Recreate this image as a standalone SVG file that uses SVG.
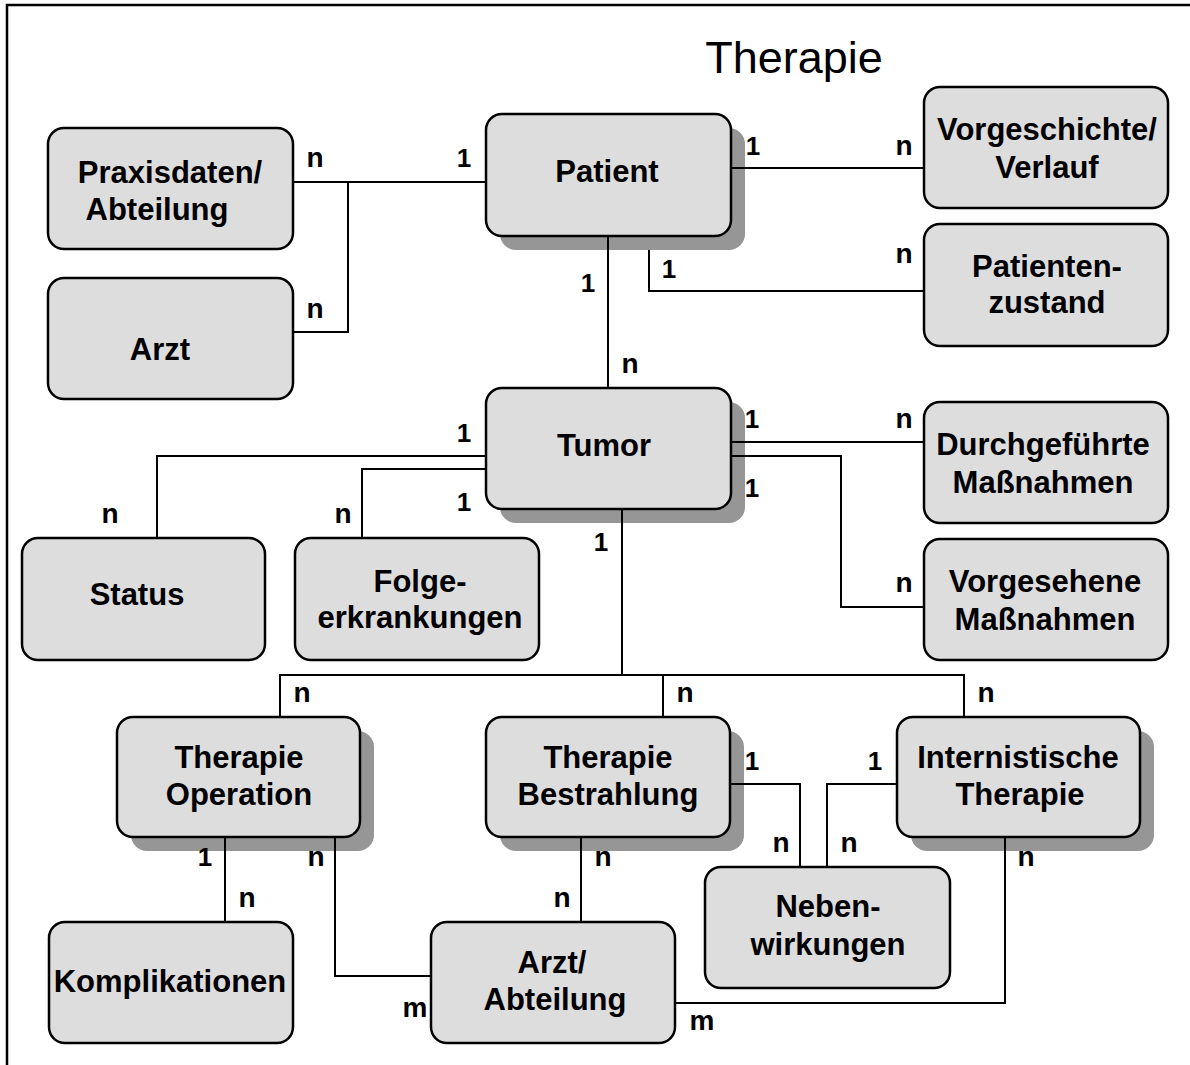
<svg xmlns="http://www.w3.org/2000/svg" width="1190" height="1065" viewBox="0 0 1190 1065">
  <style>
    .box { fill: #dddddd; stroke: #000; stroke-width: 2.5; }
    .shadow { fill: #969696; }
    .lbl { font-family: "Liberation Sans", Arial, sans-serif; font-weight: bold; font-size: 31px; text-anchor: middle; fill: #000; }
    .card { font-family: "Liberation Sans", Arial, sans-serif; font-weight: bold; font-size: 28px; text-anchor: middle; fill: #000; }
    .card.one { font-size: 26px; }
    .title { font-family: "Liberation Sans", Arial, sans-serif; font-size: 45px; text-anchor: middle; fill: #000; }
    .wire { fill: none; stroke: #000; stroke-width: 2; }
  </style>

  <rect x="0" y="0" width="1190" height="1065" fill="#fff"/>

  <!-- frame: top and left edges -->
  <path d="M7,1065 V5 H1190" fill="none" stroke="#000" stroke-width="2.5"/>

  <text class="title" x="794" y="73">Therapie</text>

  <g id="praxisdaten">
    <rect class="box" x="48" y="128" width="245" height="121" rx="16"/>
    <text class="lbl" x="170" y="183">Praxisdaten/</text>
    <text class="lbl" x="157" y="220">Abteilung</text>
  </g>

  <g id="arzt">
    <rect class="box" x="48" y="278" width="245" height="121" rx="16"/>
    <text class="lbl" x="160" y="360">Arzt</text>
  </g>

  <g id="patient">
    <rect class="shadow" x="500" y="128" width="245" height="122" rx="16"/>
    <rect class="box" x="486" y="114" width="245" height="122" rx="16"/>
    <text class="lbl" x="607" y="182">Patient</text>
  </g>

  <g id="vorgeschichte">
    <rect class="box" x="924" y="87" width="244" height="121" rx="16"/>
    <text class="lbl" x="1047" y="140">Vorgeschichte/</text>
    <text class="lbl" x="1047" y="178">Verlauf</text>
  </g>

  <g id="patientenzustand">
    <rect class="box" x="924" y="224" width="244" height="122" rx="16"/>
    <text class="lbl" x="1047" y="277">Patienten-</text>
    <text class="lbl" x="1047" y="313">zustand</text>
  </g>

  <g id="tumor">
    <rect class="shadow" x="500" y="402" width="245" height="121" rx="16"/>
    <rect class="box" x="486" y="388" width="245" height="121" rx="16"/>
    <text class="lbl" x="604" y="456">Tumor</text>
  </g>

  <g id="status">
    <rect class="box" x="22" y="538" width="243" height="122" rx="16"/>
    <text class="lbl" x="137" y="605">Status</text>
  </g>

  <g id="folgeerkrankungen">
    <rect class="box" x="295" y="538" width="244" height="122" rx="16"/>
    <text class="lbl" x="420" y="592">Folge-</text>
    <text class="lbl" x="420" y="628">erkrankungen</text>
  </g>

  <g id="durchgefuehrte">
    <rect class="box" x="924" y="402" width="244" height="121" rx="16"/>
    <text class="lbl" x="1043" y="455">Durchgeführte</text>
    <text class="lbl" x="1043" y="493">Maßnahmen</text>
  </g>

  <g id="vorgesehene">
    <rect class="box" x="924" y="539" width="244" height="121" rx="16"/>
    <text class="lbl" x="1045" y="592">Vorgesehene</text>
    <text class="lbl" x="1045" y="630">Maßnahmen</text>
  </g>

  <g id="therapie-operation">
    <rect class="shadow" x="131" y="731" width="243" height="120" rx="16"/>
    <rect class="box" x="117" y="717" width="243" height="120" rx="16"/>
    <text class="lbl" x="239" y="768">Therapie</text>
    <text class="lbl" x="239" y="805">Operation</text>
  </g>

  <g id="therapie-bestrahlung">
    <rect class="shadow" x="500" y="731" width="244" height="120" rx="16"/>
    <rect class="box" x="486" y="717" width="244" height="120" rx="16"/>
    <text class="lbl" x="608" y="768">Therapie</text>
    <text class="lbl" x="608" y="805">Bestrahlung</text>
  </g>

  <g id="internistische-therapie">
    <rect class="shadow" x="911" y="731" width="243" height="120" rx="16"/>
    <rect class="box" x="897" y="717" width="243" height="120" rx="16"/>
    <text class="lbl" x="1018" y="768">Internistische</text>
    <text class="lbl" x="1020" y="805">Therapie</text>
  </g>

  <g id="nebenwirkungen">
    <rect class="box" x="705" y="867" width="245" height="121" rx="16"/>
    <text class="lbl" x="828" y="917">Neben-</text>
    <text class="lbl" x="828" y="955">wirkungen</text>
  </g>

  <g id="komplikationen">
    <rect class="box" x="49" y="922" width="244" height="121" rx="16"/>
    <text class="lbl" x="170" y="992">Komplikationen</text>
  </g>

  <g id="arzt-abteilung">
    <rect class="box" x="431" y="922" width="244" height="121" rx="16"/>
    <text class="lbl" x="552" y="973">Arzt/</text>
    <text class="lbl" x="555" y="1010">Abteilung</text>
  </g>

  <g id="connectors">
    <path class="wire" d="M293,182 H486 M348,182 V332 H293"/>
    <path class="wire" d="M731,168 H924"/>
    <path class="wire" d="M649,250 V291 H924"/>
    <path class="wire" d="M608,236 V388"/>
    <path class="wire" d="M486,456 H157 V538"/>
    <path class="wire" d="M486,469 H362 V538"/>
    <path class="wire" d="M731,442 H924"/>
    <path class="wire" d="M731,456 H841 V607 H924"/>
    <path class="wire" d="M622,509 V675 M280,717 V675 H964 V717 M663,675 V717"/>
    <path class="wire" d="M225,837 V922"/>
    <path class="wire" d="M335,837 V976 H431"/>
    <path class="wire" d="M581,837 V922"/>
    <path class="wire" d="M730,784 H800 V867"/>
    <path class="wire" d="M897,784 H827 V867"/>
    <path class="wire" d="M1005,837 V1003 H675"/>
  </g>

  <g id="cardinalities">
    <text class="card" x="315" y="167">n</text>
    <text class="card" x="315" y="318">n</text>
    <text class="card one" x="464" y="167">1</text>
    <text class="card one" x="753" y="155">1</text>
    <text class="card" x="904" y="155">n</text>
    <text class="card one" x="669" y="278">1</text>
    <text class="card" x="904" y="263">n</text>
    <text class="card one" x="588" y="292">1</text>
    <text class="card" x="630" y="373">n</text>

    <text class="card one" x="464" y="442">1</text>
    <text class="card one" x="464" y="511">1</text>
    <text class="card" x="110" y="523">n</text>
    <text class="card" x="343" y="523">n</text>
    <text class="card one" x="752" y="428">1</text>
    <text class="card one" x="752" y="497">1</text>
    <text class="card" x="904" y="428">n</text>
    <text class="card" x="904" y="592">n</text>
    <text class="card one" x="601" y="551">1</text>

    <text class="card" x="302" y="702">n</text>
    <text class="card" x="685" y="702">n</text>
    <text class="card" x="986" y="702">n</text>
    <text class="card one" x="205" y="866">1</text>
    <text class="card" x="316" y="866">n</text>
    <text class="card" x="603" y="866">n</text>
    <text class="card" x="1026" y="866">n</text>
    <text class="card" x="247" y="907">n</text>
    <text class="card" x="562" y="907">n</text>
    <text class="card one" x="752" y="770">1</text>
    <text class="card one" x="875" y="770">1</text>
    <text class="card" x="781" y="852">n</text>
    <text class="card" x="849" y="852">n</text>
    <text class="card" x="415" y="1017">m</text>
    <text class="card" x="702" y="1030">m</text>
  </g>
</svg>
